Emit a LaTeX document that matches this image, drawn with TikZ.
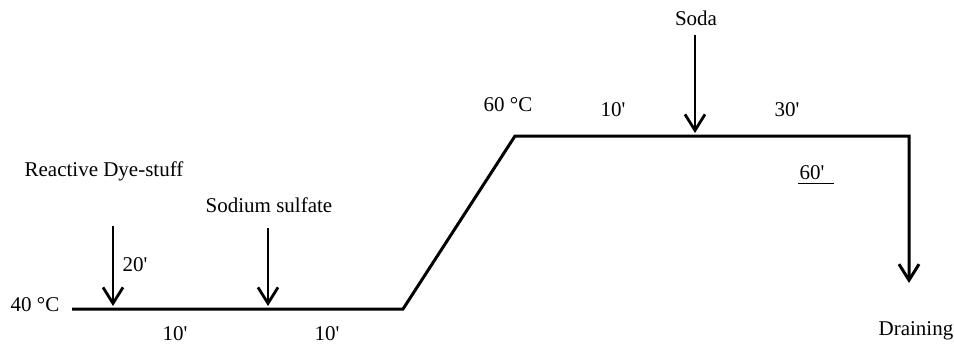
\documentclass[tikz,border=0pt]{standalone}
\usepackage{fontspec}
\setmainfont{Liberation Serif}
\usetikzlibrary{arrows.meta}
\newcommand{\pr}{\textquotesingle}
\begin{document}
\begin{tikzpicture}[x=1pt,y=-1pt,
  lbl/.style={inner sep=0pt, font=\fontsize{21}{25}\selectfont},
  proc/.style={line width=3pt, line join=miter, -{Straight Barb[length=16pt,width=20pt]}},
  feed/.style={line width=2.8pt, -{Straight Barb[length=16pt,width=20pt]}},
  rule/.style={line width=0.8pt}
]
\useasboundingbox (0,0) rectangle (954,345);
% process line
\coordinate (p0) at (72,309);
\coordinate (p1) at (403,309);
\coordinate (p2) at (515,136);
\coordinate (p3) at (909,136);
\coordinate (p4) at (909,283);
\draw[proc] (p0) -- (p1) -- (p2) -- (p3) -- (p4);
% labels
\node[lbl] (dye)  at (104,171) {Reactive Dye-stuff};
\node[lbl] (sulf) at (269,205) {Sodium sulfate};
\node[lbl] (soda) at (696,18)  {Soda};
\node[lbl] (drain) at (916,331) {Draining};
\node[lbl] (t40) at (35,305) {40 °C};
\node[lbl] (t60) at (508,105) {60 °C};
\node[lbl] (m20) at (135,265) {20\pr};
\node[lbl] (m10a) at (175,334) {10\pr};
\node[lbl] (m10b) at (327,334) {10\pr};
\node[lbl] (m10c) at (613,110) {10\pr};
\node[lbl] (m30) at (787,110) {30\pr};
\node[lbl] (m60) at (812,173) {60\pr};
% feed arrows
\coordinate (a1s) at (113,226);
\coordinate (a1e) at (113,306);
\coordinate (a2s) at (268,228);
\coordinate (a2e) at (268,306);
\coordinate (a3s) at (695,35);
\coordinate (a3e) at (695,133);
\draw[feed] (a1s) -- (a1e);
\draw[feed] (a2s) -- (a2e);
\draw[feed] (a3s) -- (a3e);
% underline of 60'
\coordinate (u0) at (798,183);
\coordinate (u1) at (834,183);
\draw[rule] (u0) -- (u1);
\end{tikzpicture}
\end{document}
